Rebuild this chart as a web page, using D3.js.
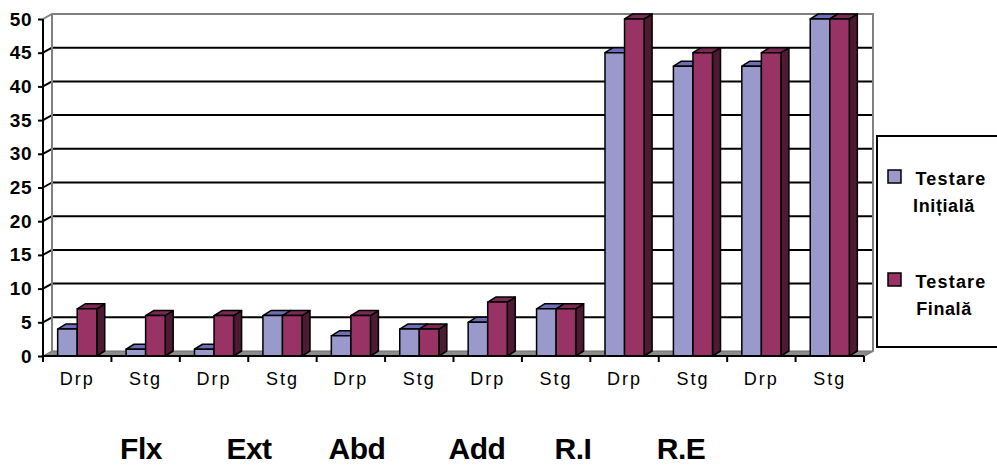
<!DOCTYPE html>
<html>
<head>
<meta charset="utf-8">
<script src="https://cdn.jsdelivr.net/npm/d3@7"></script>
<style>
  html, body { margin: 0; padding: 0; background: #fff; }
  svg { display: block; font-family: Arial, "Liberation Sans", sans-serif; }
</style>
</head>
<body>
<svg id="chart" width="997" height="465"></svg>
<script>
// Category labels along the axis (left/right side for each movement)
const categories = ["Drp", "Stg", "Drp", "Stg", "Drp", "Stg", "Drp", "Stg", "Drp", "Stg", "Drp", "Stg"];
// Movement groups written under the axis
const groups = ["Flx", "Ext", "Abd", "Add", "R.I", "R.E"];
// Series
const seriesNames = ["Testare Inițială", "Testare Finală"];
const initiala = [4, 1, 1, 6, 3, 4, 5, 7, 45, 43, 43, 50];
const finala   = [7, 6, 6, 6, 6, 4, 8, 7, 50, 45, 45, 50];
const yTicks = [0, 5, 10, 15, 20, 25, 30, 35, 40, 45, 50];

const seriesValues = [initiala, finala];
const palette = [
  { front: "#9999CC", top: "#6E6EB8", side: "#4C4C80" },
  { front: "#993366", top: "#7A2952", side: "#4D1A33" }
];

const svg = d3.select("#chart");

// Plot frame
const plotLeft = 43, plotRight = 864, plotBottom = 356, plotTop = 19;
const wallDx = 9, wallDy = -5;   // depth of walls
const barDx = 8, barDy = -5;     // depth of each column

const x0 = d3.scaleBand().domain(d3.range(categories.length)).range([plotLeft, plotRight]).padding(0);
const x1 = d3.scaleBand().domain(d3.range(seriesNames.length)).range([0, x0.bandwidth()])
  .paddingInner(0).paddingOuter(0.75);
const y = d3.scaleLinear().domain([0, 50]).range([plotBottom, plotTop]);

const g = svg.append("g");

// Floor
g.append("path")
  .attr("d", `M${plotLeft},${plotBottom} L${plotRight},${plotBottom} L${plotRight + wallDx},${plotBottom + wallDy} L${plotLeft + wallDx},${plotBottom + wallDy} Z`)
  .attr("fill", "#8C8C8C").attr("stroke", "#6E6E6E").attr("stroke-width", 1);

// Back wall gridlines (black) and the diagonal on the side wall
yTicks.filter(t => t > 0 && t < 50).forEach(t => {
  const yy = y(t);
  g.append("line")
    .attr("x1", plotLeft + wallDx).attr("x2", plotRight + wallDx)
    .attr("y1", yy + wallDy).attr("y2", yy + wallDy)
    .attr("stroke", "#000").attr("stroke-width", 2);
  g.append("line")
    .attr("x1", plotLeft).attr("x2", plotLeft + wallDx)
    .attr("y1", yy).attr("y2", yy + wallDy)
    .attr("stroke", "#000").attr("stroke-width", 2);
});

// Wall outlines (grey)
const wallTop = y(50) + wallDy, wallBottom = y(0) + wallDy;
g.append("path")
  .attr("d", `M${plotLeft},${y(50)} L${plotLeft + wallDx},${wallTop} L${plotRight + wallDx},${wallTop} L${plotRight + wallDx},${wallBottom} L${plotRight},${plotBottom}`)
  .attr("fill", "none").attr("stroke", "#808080").attr("stroke-width", 2);
g.append("line")
  .attr("x1", plotLeft + wallDx).attr("x2", plotLeft + wallDx)
  .attr("y1", wallTop).attr("y2", wallBottom)
  .attr("stroke", "#808080").attr("stroke-width", 2);

// Columns
const bars = g.append("g");
categories.forEach((c, i) => {
  seriesValues.forEach((vals, s) => {
    const v = vals[i];
    const bx = x0(i) + x1(s);
    const bw = x1.bandwidth();
    const by = y(v);
    const col = palette[s];
    const bg = bars.append("g").attr("stroke", "#000").attr("stroke-width", 1.5).attr("stroke-linejoin", "round");
    // side face
    bg.append("path")
      .attr("d", `M${bx + bw},${by} L${bx + bw + barDx},${by + barDy} L${bx + bw + barDx},${plotBottom + barDy} L${bx + bw},${plotBottom} Z`)
      .attr("fill", col.side);
    // top face
    bg.append("path")
      .attr("d", `M${bx},${by} L${bx + barDx},${by + barDy} L${bx + bw + barDx},${by + barDy} L${bx + bw},${by} Z`)
      .attr("fill", col.top);
    // front face
    bg.append("rect")
      .attr("x", bx).attr("y", by).attr("width", bw).attr("height", plotBottom - by)
      .attr("fill", col.front);
  });
});

// Value axis
const yAxis = d3.axisLeft(y).tickValues(yTicks).tickSize(5).tickPadding(6);
const ya = svg.append("g").attr("transform", `translate(${plotLeft},0)`).call(yAxis);
ya.select(".domain").attr("stroke", "#000").attr("stroke-width", 2).attr("d", `M0,${y(50)}V${y(0)}`);
ya.selectAll(".tick line").attr("stroke", "#000").attr("stroke-width", 2);
ya.selectAll(".tick text")
  .attr("font-family", "Arial, 'Liberation Sans', sans-serif")
  .attr("font-size", 19).attr("font-weight", "bold").attr("fill", "#000")
  .attr("letter-spacing", 0.5);

// Category axis
svg.append("line")
  .attr("x1", plotLeft).attr("x2", plotRight).attr("y1", plotBottom).attr("y2", plotBottom)
  .attr("stroke", "#000").attr("stroke-width", 2);
d3.range(categories.length + 1).forEach(i => {
  const xx = plotLeft + i * x0.step();
  svg.append("line")
    .attr("x1", xx).attr("x2", xx).attr("y1", plotBottom).attr("y2", plotBottom + 6)
    .attr("stroke", "#000").attr("stroke-width", 2);
});
svg.append("g").selectAll("text").data(categories).join("text")
  .attr("x", (d, i) => x0(i) + x0.bandwidth() / 2)
  .attr("y", 385)
  .attr("text-anchor", "middle")
  .attr("font-size", 18).attr("letter-spacing", 2)
  .text(d => d);

// Group labels, evenly spaced under the axis ("Add" sits a little further right)
const gx = d3.scalePoint().domain(groups).range([141, 681]);
const groupShift = { "Add": 12 };
svg.append("g").selectAll("text").data(groups).join("text")
  .attr("x", d => gx(d) + (groupShift[d] || 0))
  .attr("y", 459)
  .attr("text-anchor", "middle")
  .attr("font-size", 30).attr("font-weight", "bold")
  .attr("letter-spacing", -0.5)
  .text(d => d);

// Legend
const lg = svg.append("g");
lg.append("rect").attr("x", 877).attr("y", 136).attr("width", 130).attr("height", 211)
  .attr("fill", "#fff").attr("stroke", "#000").attr("stroke-width", 2);
const legendLines = [["Testare", "Inițială"], ["Testare", "Finală"]];
const legendY = [170, 273];
legendLines.forEach((lines, s) => {
  const ly = legendY[s];
  lg.append("rect").attr("x", 888).attr("y", ly).attr("width", 13).attr("height", 13)
    .attr("fill", palette[s].front).attr("stroke", "#000").attr("stroke-width", 1.5);
  lg.append("text").attr("x", 951).attr("y", ly + 15).attr("text-anchor", "middle")
    .attr("font-size", 18).attr("font-weight", "bold").attr("letter-spacing", 1.2)
    .text(lines[0]);
  lg.append("text").attr("x", 944).attr("y", ly + 42).attr("text-anchor", "middle")
    .attr("font-size", 18).attr("font-weight", "bold").attr("letter-spacing", 0.6)
    .text(lines[1]);
});
</script>
</body>
</html>
